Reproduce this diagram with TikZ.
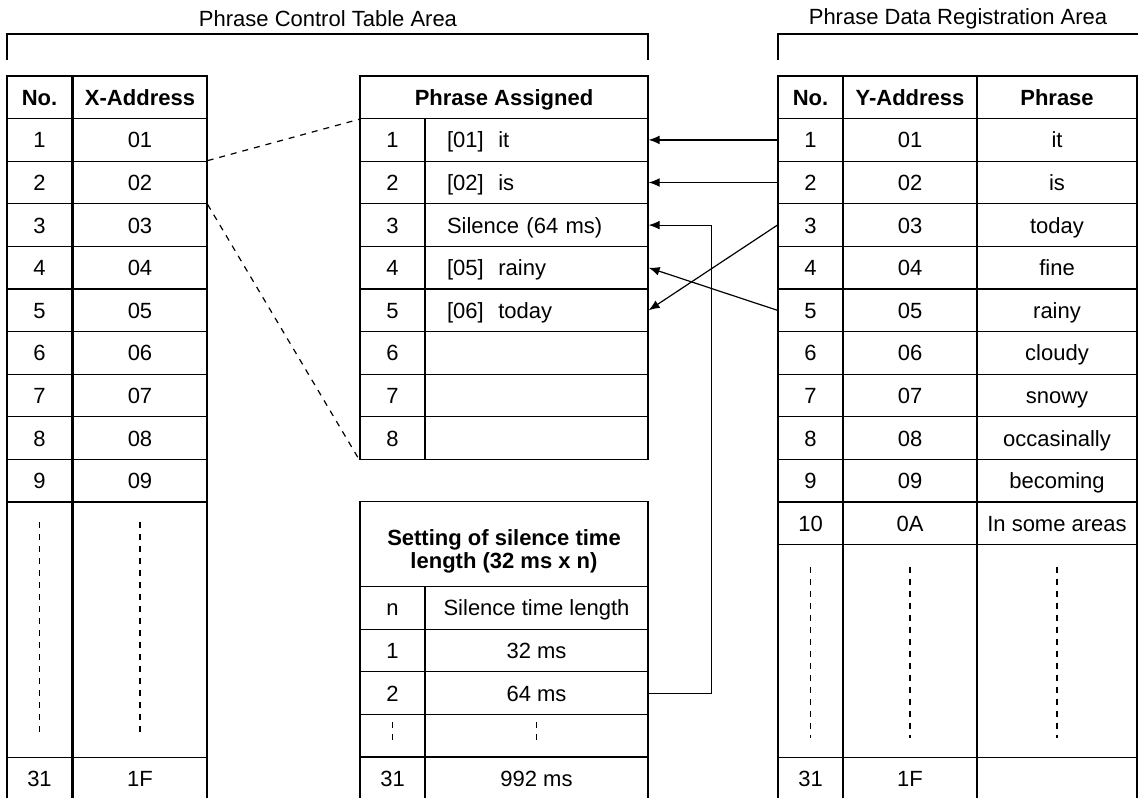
\documentclass[tikz,border=0pt]{standalone}
\usepackage{fontspec}
\setmainfont{Liberation Sans}
\usetikzlibrary{arrows.meta}

\begin{document}
\begin{tikzpicture}[x=0.5pt, y=-0.5pt, line width=0.6pt,
    font=\fontsize{11}{11.5}\selectfont,
    box/.style = {draw, rectangle, inner sep=0pt, minimum height=21.3pt},
    cell/.style = {box, text height=8.4pt, text depth=0.5pt},
    nocol/.style = {cell, minimum width=32.5pt},
    addrcol/.style = {cell, minimum width=67pt},
    phrcol/.style = {cell, minimum width=80pt},
    assigned/.style = {cell, text width=89.5pt, inner xsep=11pt, align=left},
    lencol/.style = {cell, minimum width=111.5pt},
    gap/.style = {minimum height=#1},
    dots/.style = {dash pattern=on 3pt off 3pt},
    link/.style = {-{Latex[length=5.5pt,width=4.4pt]}}]
    \useasboundingbox (0,0) rectangle (1138,797);
    \clip (0,0) rectangle (1138,797);

    \node (ctl) at (328,19) {Phrase Control Table Area};
    \node (reg) at (958,19) {Phrase Data Registration Area};
    \draw (7,60) |- (648,34) -- (648,60);
    \draw (778,60) |- (1145,34);

    \node [nocol] (lh) at (39.5,97.3) {\textbf{No.}};
    \node [addrcol] (lah) at (140,97.3) {\textbf{X-Address}};
    \foreach \i/\a in {1/01,2/02,3/03,4/04,5/05,6/06,7/07,8/08,9/09} {
        \node [nocol] (ln\i) at (39.5,{97.3+42.6*\i}) {\i};
        \node [addrcol] (la\i) at (140,{97.3+42.6*\i}) {\a};
    }
    \node [nocol,gap=127.8pt] (lnd) at (39.5,629.8) {};
    \node [addrcol,gap=127.8pt] (lad) at (140,629.8) {};
    \node [nocol] (ln31) at (39.5,778.9) {31};
    \node [addrcol] (la31) at (140,778.9) {1F};
    \draw [dots] ([yshift=-10.5pt]lnd.north) -- ([yshift=10pt]lnd.south);
    \draw [dots] ([yshift=-10.5pt]lad.north) -- ([yshift=10pt]lad.south);

    \node [cell,minimum width=144pt] (mh) at (504,97.3) {\textbf{Phrase Assigned}};
    \foreach \i/\t in {1/{[01]\ \ it},2/{[02]\ \ is},3/{Silence (64 ms)},4/{[05]\ \ rainy},
        5/{[06]\ \ today},6/{},7/{},8/{}} {
        \node [nocol] (mn\i) at (392.5,{97.3+42.6*\i}) {\i};
        \node [assigned] (mp\i) at (536.5,{97.3+42.6*\i}) {\t};
    }

    \node [box,minimum width=144pt,gap=42.6pt] (sh) at (504,544) {};
    \node [align=center,inner sep=0pt] (shtext) at ([yshift=-3.5pt]sh.center)
        {\textbf{Setting of silence time}\\\textbf{length (32 ms x n)}};
    \node [nocol] (snh) at (392.5,607.9) {n};
    \node [lencol] (slh) at (536.5,607.9) {Silence time length};
    \node [nocol] (sn1) at (392.5,650.5) {1};
    \node [lencol] (sl1) at (536.5,650.5) {32 ms};
    \node [nocol] (sn2) at (392.5,693.1) {2};
    \node [lencol] (sl2) at (536.5,693.1) {64 ms};
    \node [nocol] (snd) at (392.5,735.7) {};
    \node [lencol] (sld) at (536.5,735.7) {};
    \node [nocol] (sn31) at (392.5,778.3) {31};
    \node [lencol] (sl31) at (536.5,778.3) {992 ms};
    \draw [dots] ([yshift=-4pt]snd.north) -- ([yshift=7pt]snd.south);
    \draw [dots] ([yshift=-4pt]sld.north) -- ([yshift=7pt]sld.south);

    \node [nocol] (rh) at (810.5,97.3) {\textbf{No.}};
    \node [addrcol] (rah) at (910,97.3) {\textbf{Y-Address}};
    \node [phrcol] (rph) at (1057,97.3) {\textbf{Phrase}};
    \foreach \i/\a/\p in {1/01/it,2/02/is,3/03/today,4/04/fine,5/05/rainy,6/06/cloudy,
        7/07/snowy,8/08/occasinally,9/09/becoming,10/0A/In some areas} {
        \node [nocol] (rn\i) at (810.5,{97.3+42.6*\i}) {\i};
        \node [addrcol] (ra\i) at (910,{97.3+42.6*\i}) {\a};
        \node [phrcol] (rp\i) at (1057,{97.3+42.6*\i}) {\p};
    }
    \node [nocol,gap=106.5pt] (rnd) at (810.5,650.8) {};
    \node [addrcol,gap=106.5pt] (rad) at (910,650.8) {};
    \node [phrcol,gap=106.5pt] (rpd) at (1057,650.8) {};
    \node [nocol] (rn31) at (810.5,778.9) {31};
    \node [addrcol] (ra31) at (910,778.9) {1F};
    \node [phrcol] (rp31) at (1057,778.9) {};
    \draw [dots] ([yshift=-11.5pt]rnd.north) -- ([yshift=10pt]rnd.south);
    \draw [dots] ([yshift=-11.5pt]rad.north) -- ([yshift=10pt]rad.south);
    \draw [dots] ([yshift=-11.5pt]rpd.north) -- ([yshift=10pt]rpd.south);

    \draw [dashed] (la2.north east) -- (mh.south west);
    \draw [dashed] (la2.south east) -- (mn8.south west);
    \draw [link] (rn1.west) -- (mp1.east);
    \draw [link] (rn2.west) -- (mp2.east);
    \draw [link] (rn3.west) -- (mp5.east);
    \draw [link] (rn5.west) -- (mp4.east);
    \draw [link] (sl2.east) -- ++(63,0) |- (mp3.east);
\end{tikzpicture}
\end{document}
